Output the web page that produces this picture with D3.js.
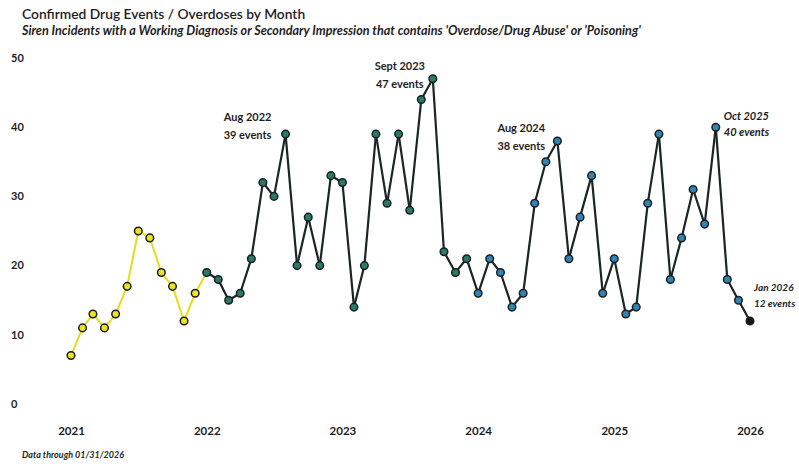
<!DOCTYPE html>
<html>
<head>
<meta charset="utf-8">
<script src="https://cdn.jsdelivr.net/npm/d3@7"></script>
<style>
  body { margin: 0; background: #fff; }
  svg text { font-family: Lato, "Open Sans", sans-serif; fill: #1e1e1e; }
</style>
</head>
<body>
<div id="chart"></div>
<script>
// Monthly counts, Jan 2021 .. Jan 2026
const months = d3.timeMonths(new Date(2021, 0, 1), new Date(2026, 0, 2));
const counts = [
    7, 11, 13, 11, 13, 17, 25, 24, 19, 17, 12, 16,   // 2021
    19, 18, 15, 16, 21, 32, 30, 39, 20, 27, 20, 33,  // 2022
    32, 14, 20, 39, 29, 39, 28, 44, 47, 22, 19, 21,  // 2023
    16, 21, 19, 14, 16, 29, 35, 38, 21, 27, 33, 16,  // 2024
    21, 13, 14, 29, 39, 18, 24, 31, 26, 40, 18, 15,  // 2025
    12                                               // 2026
];
const yearTicks = [2021, 2022, 2023, 2024, 2025, 2026];
const yTicks = [0, 10, 20, 30, 40, 50];

// callouts: month index, two lines, italic or not
const callouts = [
    { i: 19, lines: ["Aug 2022", "39 events"], italic: false },
    { i: 32, lines: ["Sept 2023", "47 events"], italic: false },
    { i: 43, lines: ["Aug 2024", "38 events"], italic: false },
    { i: 57, lines: ["Oct 2025", "40 events"], italic: true },
    { i: 60, lines: ["Jan 2026", "12 events"], italic: true }
];

const data = months.map((m, i) => ({ date: m, value: counts[i], year: m.getFullYear() }));

const width = 799, height = 464;

const svg = d3.select("#chart")
    .append("svg")
    .attr("width", width)
    .attr("height", height);

const x = d3.scaleTime()
    .domain([new Date(2021, 0, 1), new Date(2026, 0, 1)])
    .range([71, 750]);

const y = d3.scaleLinear()
    .domain([0, 50])
    .range([404, 58]);

// title + subtitle
svg.append("text")
    .attr("x", 22).attr("y", 19)
    .style("font-size", "13.8px")
    .style("font-weight", 600)
    .text("Confirmed Drug Events / Overdoses by Month");

svg.append("text")
    .attr("x", 22).attr("y", 35)
    .style("font-size", "12.6px")
    .style("font-style", "italic")
    .style("font-weight", 700)
    .text("Siren Incidents with a Working Diagnosis or Secondary Impression that contains 'Overdose/Drug Abuse' or 'Poisoning'");

// y labels (no axis line)
svg.append("g")
    .selectAll("text")
    .data(yTicks)
    .enter()
    .append("text")
    .attr("x", 11)
    .attr("y", d => y(d))
    .attr("dy", "0.35em")
    .style("font-size", "11px")
    .style("font-weight", 700)
    .text(d => d);

// x labels
const xAxis = svg.append("g")
    .attr("transform", "translate(0,424)")
    .call(d3.axisBottom(x)
        .tickValues(yearTicks.map(yr => new Date(yr, 0, 1)))
        .tickFormat(d3.timeFormat("%Y"))
        .tickSize(0)
        .tickPadding(3));
xAxis.select(".domain").remove();
xAxis.selectAll("text")
    .style("font-family", "Lato, sans-serif")
    .style("font-size", "11.5px")
    .style("font-weight", 700)
    .style("fill", "#1e1e1e");

const line = d3.line()
    .x(d => x(d.date))
    .y(d => y(d.value));

// line segments, yellow while starting in 2021, dark afterwards
const segs = d3.pairs(data);
svg.append("g")
    .selectAll("path")
    .data(segs)
    .enter()
    .append("path")
    .attr("d", d => line(d))
    .attr("fill", "none")
    .attr("stroke", d => d[0].year === 2021 ? "#e4dc1e" : "#1b2524")
    .attr("stroke-width", d => d[0].year === 2021 ? 2 : 2.2)
    .attr("stroke-linecap", "round");

function pointFill(yr) {
    if (yr === 2021) return "#ede326";
    if (yr <= 2023) return "#2a7a6a";
    if (yr <= 2025) return "#2f86b6";
    return "#151515";
}

svg.append("g")
    .selectAll("circle")
    .data(data)
    .enter()
    .append("circle")
    .attr("cx", d => x(d.date))
    .attr("cy", d => y(d.value))
    .attr("r", 3.8)
    .attr("fill", d => pointFill(d.year))
    .attr("stroke", "#1b1f1e")
    .attr("stroke-width", 1.5);

// callouts
const offsets = {
    19: { dx: -38, y0: 121, anchor: "middle", size: 11 },
    32: { dx: -33, y0: 70, anchor: "middle", size: 11 },
    43: { dx: -60, y0: 132, anchor: "start", size: 11 },
    57: { dx: 8, y0: 120, anchor: "start", size: 11 },
    60: { dx: 4, y0: 291, anchor: "start", size: 10 }
};
callouts.forEach(c => {
    const o = offsets[c.i];
    const px = x(data[c.i].date) + o.dx;
    const t = svg.append("text")
        .attr("text-anchor", o.anchor)
        .style("font-size", o.size + "px")
        .style("font-weight", 700)
        .style("font-style", c.italic ? "italic" : "normal");
    c.lines.forEach((l, k) => {
        t.append("tspan")
            .attr("x", px)
            .attr("y", o.y0 + k * (c.italic ? 15.5 : 17.5))
            .text(l);
    });
});

// footer
svg.append("text")
    .attr("x", 22).attr("y", 458)
    .style("font-size", "9px")
    .style("font-style", "italic")
    .style("font-weight", 700)
    .text("Data through 01/31/2026");
</script>
</body>
</html>
